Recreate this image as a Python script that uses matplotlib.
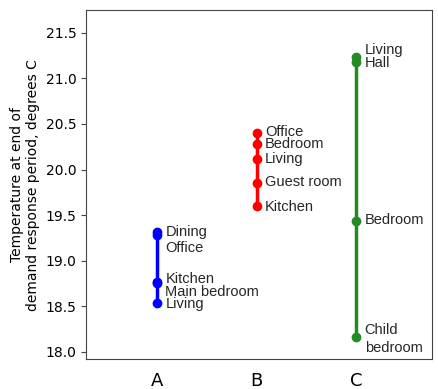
import matplotlib.pyplot as plt

# temperaturas no fim do periodo de resposta a demanda
groups = ["A", "B", "C"]
colors = ["#0000ff", "#ff0000", "#228b22"]

rooms_a = ["Dining", "Office", "Kitchen", "Main bedroom", "Living"]
temps_a = [19.31, 19.28, 18.77, 18.75, 18.53]

rooms_b = ["Office", "Bedroom", "Living", "Guest room", "Kitchen"]
temps_b = [20.40, 20.28, 20.12, 19.85, 19.60]

rooms_c = ["Living", "Hall", "Bedroom", "Child\nbedroom"]
temps_c = [21.23, 21.18, 19.44, 18.16]

# posicao vertical dos rotulos (afastados para nao sobrepor)
label_y_a = [19.31, 19.14, 18.80, 18.66, 18.52]
label_y_b = [20.41, 20.28, 20.12, 19.86, 19.59]
label_y_c = [21.31, 21.17, 19.45, 18.14]

rooms = [rooms_a, rooms_b, rooms_c]
temps = [temps_a, temps_b, temps_c]
label_y = [label_y_a, label_y_b, label_y_c]

fig = plt.figure(figsize=(4.39, 3.89), dpi=100)
ax = fig.add_axes([0.196, 0.077, 0.788, 0.897])

for i in range(len(groups)):
    x = [i] * len(temps[i])
    ax.plot(x, temps[i], color=colors[i], marker="o", markersize=6, linewidth=2.5)
    for name, yl in zip(rooms[i], label_y[i]):
        ax.text(i + 0.085, yl, name, va="center", ha="left", fontsize=10.5,
                family="Liberation Sans", color="#262626", linespacing=1.4)

ax.set_xlim(-0.71, 2.76)
ax.set_ylim(17.92, 21.75)
ax.set_xticks(range(len(groups)))
ax.set_xticklabels(groups, fontsize=13)
ax.tick_params(axis="x", length=0, pad=9)
ax.set_yticks([18.0, 18.5, 19.0, 19.5, 20.0, 20.5, 21.0, 21.5])
ax.tick_params(axis="y", labelsize=10, color="#444444")
for s in ax.spines.values():
    s.set_color("#444444")
ax.set_ylabel("Temperature at end of\ndemand response period, degrees C", fontsize=10)

fig.savefig("out.png", dpi=100)
